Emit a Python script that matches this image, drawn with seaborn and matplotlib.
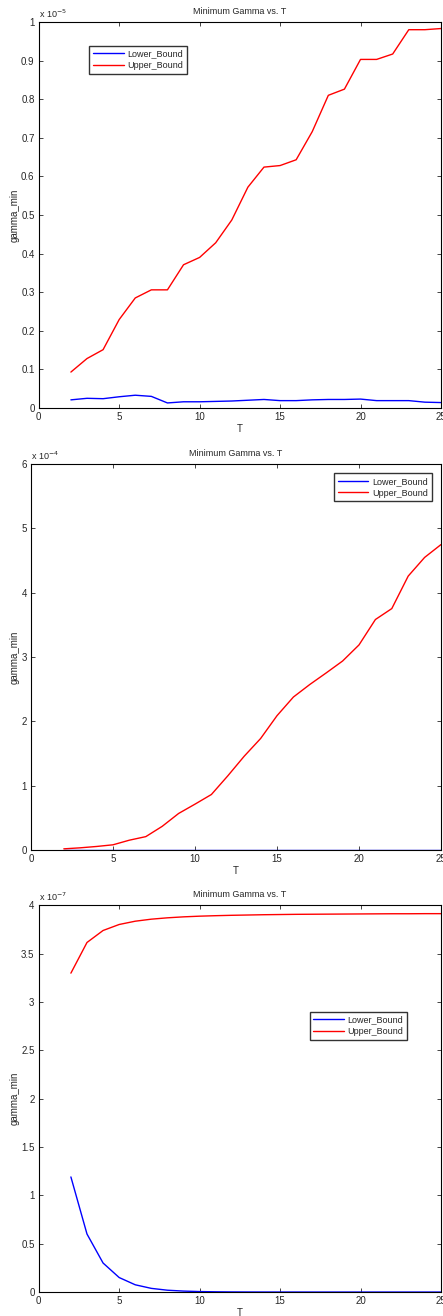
# Minimum Gamma vs. T, three stacked panels (lower / upper bound)
import numpy as np
import pandas as pd
import seaborn as sns
import matplotlib
import matplotlib.pyplot as plt
from matplotlib.ticker import FormatStrFormatter

matplotlib.use("Agg")

T = list(range(2, 26))

# panel 1, units of 1e-5
lower_1 = [0.021, 0.025, 0.024, 0.029, 0.033, 0.030, 0.013, 0.016, 0.016, 0.017, 0.018, 0.020,
           0.022, 0.019, 0.019, 0.021, 0.022, 0.022, 0.023, 0.019, 0.019, 0.019, 0.015, 0.014]
upper_1 = [0.093, 0.128, 0.151, 0.229, 0.285, 0.306, 0.306, 0.371, 0.390, 0.428, 0.487, 0.572,
           0.624, 0.628, 0.643, 0.716, 0.810, 0.826, 0.903, 0.903, 0.917, 0.980, 0.980, 0.983]

# panel 2, units of 1e-4
lower_2 = [0.002] * 24
upper_2 = [0.02, 0.036, 0.057, 0.083, 0.155, 0.21, 0.37, 0.57, 0.715, 0.865, 1.155, 1.46,
           1.735, 2.09, 2.38, 2.575, 2.755, 2.94, 3.19, 3.585, 3.755, 4.26, 4.55, 4.75]

# panel 3, units of 1e-7
lower_3 = [1.19, 0.60, 0.30, 0.15, 0.075, 0.038, 0.019, 0.010, 0.005, 0.0025, 0.0012, 0.0006,
           0.0003, 0.0002, 0.0001, 0.0, 0.0, 0.0, 0.0, 0.0, 0.0, 0.0, 0.0, 0.0]
upper_3 = [3.297, 3.614, 3.738, 3.800, 3.834, 3.855, 3.869, 3.879, 3.886, 3.891, 3.895, 3.898,
           3.901, 3.903, 3.905, 3.906, 3.907, 3.908, 3.909, 3.910, 3.911, 3.911, 3.912, 3.912]

panels = [
    dict(lower=lower_1, upper=upper_1, exp="-5", ylim=1, yticks=np.arange(0, 1.01, 0.1),
         rect=[0.0874, 0.690, 0.908, 0.2933], leg=dict(loc="upper left", bbox_to_anchor=(0.115, 0.95))),
    dict(lower=lower_2, upper=upper_2, exp="-4", ylim=6, yticks=np.arange(0, 6.1, 1),
         rect=[0.0700, 0.354, 0.9255, 0.2933], leg=dict(loc="upper right", bbox_to_anchor=(0.988, 0.988))),
    dict(lower=lower_3, upper=upper_3, exp="-7", ylim=4, yticks=np.arange(0, 4.01, 0.5),
         rect=[0.0874, 0.0182, 0.908, 0.294], leg=dict(loc="upper left", bbox_to_anchor=(0.662, 0.736))),
]

sns.set_style("white")
plt.rcParams["font.family"] = ["Liberation Sans", "DejaVu Sans"]

fig = plt.figure(figsize=(4.43, 13.16), dpi=100)

for p in panels:
    ax = fig.add_axes(p["rect"])
    df = pd.DataFrame({
        "T": T + T,
        "gamma_min": p["lower"] + p["upper"],
        "bound": ["Lower_Bound"] * len(T) + ["Upper_Bound"] * len(T),
    })
    sns.lineplot(data=df, x="T", y="gamma_min", hue="bound",
                 palette={"Lower_Bound": "blue", "Upper_Bound": "red"},
                 linewidth=1.0, ax=ax)
    ax.set_xlim(0, 25)
    ax.set_ylim(0, p["ylim"])
    ax.set_xticks(range(0, 26, 5))
    ax.set_yticks(p["yticks"])
    ax.yaxis.set_major_formatter(FormatStrFormatter("%g"))
    ax.tick_params(direction="in", length=3, width=0.6, labelsize=7, top=True, right=True,
                   bottom=True, left=True, pad=3)
    for s in ax.spines.values():
        s.set_visible(True)
        s.set_color("black")
        s.set_linewidth(0.8)
    ax.set_title("Minimum Gamma vs. T", fontsize=6.5, pad=6)
    ax.set_xlabel("T", fontsize=7, labelpad=1)
    ax.set_ylabel("gamma_min", fontsize=7, labelpad=1)
    ax.text(0, 1.005, r"x 10$^{%s}$" % p["exp"], transform=ax.transAxes,
            fontsize=6.5, va="bottom", ha="left")
    leg = ax.legend(title=None, fontsize=6.5, handlelength=3.4, frameon=True,
                    fancybox=False, edgecolor="black", borderpad=0.4,
                    labelspacing=0.3, handletextpad=0.4, **p["leg"])
    leg.get_frame().set_linewidth(1.0)

fig.savefig("out.png", dpi=100)
